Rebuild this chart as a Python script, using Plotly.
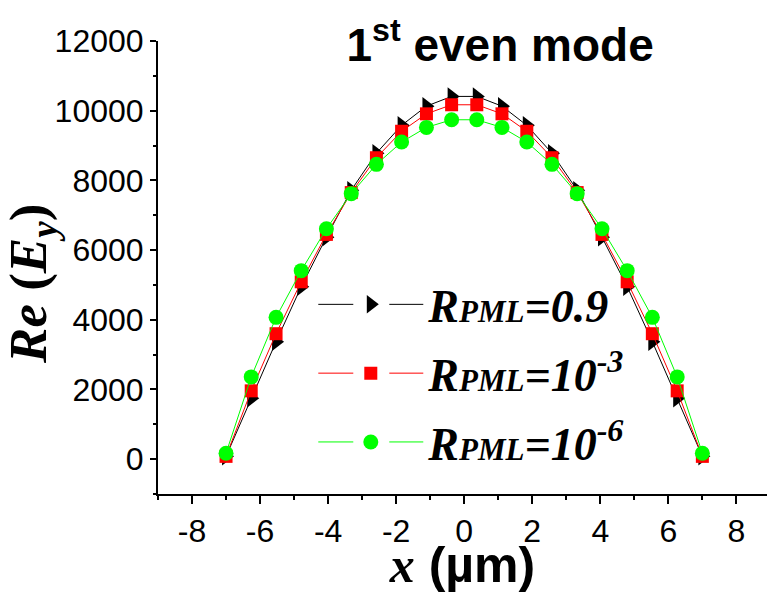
import plotly.graph_objects as go

# ---- data ----
x_vals = [-7.0, -6.26, -5.53, -4.79, -4.05, -3.32, -2.58, -1.84, -1.11, -0.37,
          0.37, 1.11, 1.84, 2.58, 3.32, 4.05, 4.79, 5.53, 6.26, 7.0]
re_ey_r09 = [80, 1750, 3370, 4950, 6370, 7720, 8780, 9580, 10130, 10410,
             10410, 10130, 9580, 8780, 7720, 6370, 4950, 3370, 1750, 80]
re_ey_r1e3 = [80, 1960, 3600, 5090, 6450, 7650, 8650, 9410, 9910, 10170,
              10170, 9910, 9410, 8650, 7650, 6450, 5090, 3600, 1960, 80]
re_ey_r1e6 = [170, 2360, 4070, 5410, 6610, 7620, 8460, 9100, 9520, 9740,
              9740, 9520, 9100, 8460, 7620, 6610, 5410, 4070, 2360, 170]

series_names = [
    "<b><i>R<span style='font-size:31px'>PML</span>=0.9</i></b>",
    "<b><i>R<span style='font-size:31px'>PML</span>=10<sup>-3</sup></i></b>",
    "<b><i>R<span style='font-size:31px'>PML</span>=10<sup>-6</sup></i></b>",
]
x_tickvals = [-8, -6, -4, -2, 0, 2, 4, 6, 8]
x_ticktext = ["-8", "-6", "-4", "-2", "0", "2", "4", "6", "8"]
y_tickvals = [0, 2000, 4000, 6000, 8000, 10000, 12000]
y_ticktext = ["0", "2000", "4000", "6000", "8000", "10000", "12000"]

styles = [
    dict(color="#000000", symbol="triangle-right", size=16),
    dict(color="#FF0000", symbol="square", size=13),
    dict(color="#00FF00", symbol="circle", size=15),
]
series = [re_ey_r09, re_ey_r1e3, re_ey_r1e6]

fig = go.Figure()
for ys, st in zip(series, styles):
    fig.add_trace(go.Scatter(
        x=x_vals, y=ys, mode="lines+markers", showlegend=False,
        line=dict(color=st["color"], width=1),
        marker=dict(color=st["color"], symbol=st["symbol"], size=st["size"]),
    ))
# legend keys (no data points)
for i, (st, name) in enumerate(zip(styles, series_names)):
    fig.add_trace(go.Scatter(
        x=[None], y=[None], mode="lines+markers", name=name, legendgroup="g%d" % i,
        line=dict(color=st["color"], width=1, dash="35px,36px,34px,300px"),
        marker=dict(color=st["color"], symbol=st["symbol"], size=st["size"]),
    ))

fig.update_layout(
    width=767, height=593,
    margin=dict(l=158, r=0, t=41, b=99),
    paper_bgcolor="white", plot_bgcolor="white",
    font=dict(family="Liberation Sans, Arial", color="black"),
    title=dict(text="<b>1<sup>st</sup> even mode</b>",
               font=dict(family="Liberation Sans, Arial", size=46, color="black"),
               x=0.652, xanchor="center", y=0.925, yanchor="middle"),
    showlegend=True,
    legend=dict(x=0.255, y=0.499, xanchor="left", yanchor="top",
                bgcolor="rgba(0,0,0,0)", itemwidth=105, tracegroupgap=6,
                font=dict(family="Liberation Serif, Times New Roman", size=46, color="black")),
    xaxis=dict(range=[-9, 8.9], showgrid=False, zeroline=False,
               showline=True, linecolor="black", linewidth=2,
               ticks="outside", ticklen=8, tickwidth=1.5, tickcolor="black",
               tickvals=x_tickvals, ticktext=x_ticktext,
               tickfont=dict(size=32, family="Liberation Sans, Arial"),
               minor=dict(dtick=1, tick0=-9, ticks="outside", ticklen=4, tickwidth=1.5, tickcolor="black"),
               title=dict(text="<b><i><span style='font-family:Liberation Serif'>x</span></i> (µm)</b>",
                          font=dict(size=50, family="Liberation Sans, Arial"), standoff=2)),
    yaxis=dict(range=[-1000, 12000], showgrid=False, zeroline=False,
               showline=True, linecolor="black", linewidth=2,
               ticks="outside", ticklen=6, tickwidth=1.5, tickcolor="black",
               tickvals=y_tickvals, ticktext=y_ticktext,
               tickfont=dict(size=32, family="Liberation Sans, Arial"),
               minor=dict(dtick=1000, tick0=-1000, ticks="outside", ticklen=3, tickwidth=1.5, tickcolor="black")),
    annotations=[dict(
        text="<b><i>Re</i> (<i>E<sub>y</sub></i>)</b>", textangle=-90,
        xref="paper", yref="paper", x=-0.207, y=0.4636,
        xanchor="center", yanchor="middle", showarrow=False,
        font=dict(size=53, family="Liberation Serif, Times New Roman", color="black"))],
)

fig.write_html("out.html")
